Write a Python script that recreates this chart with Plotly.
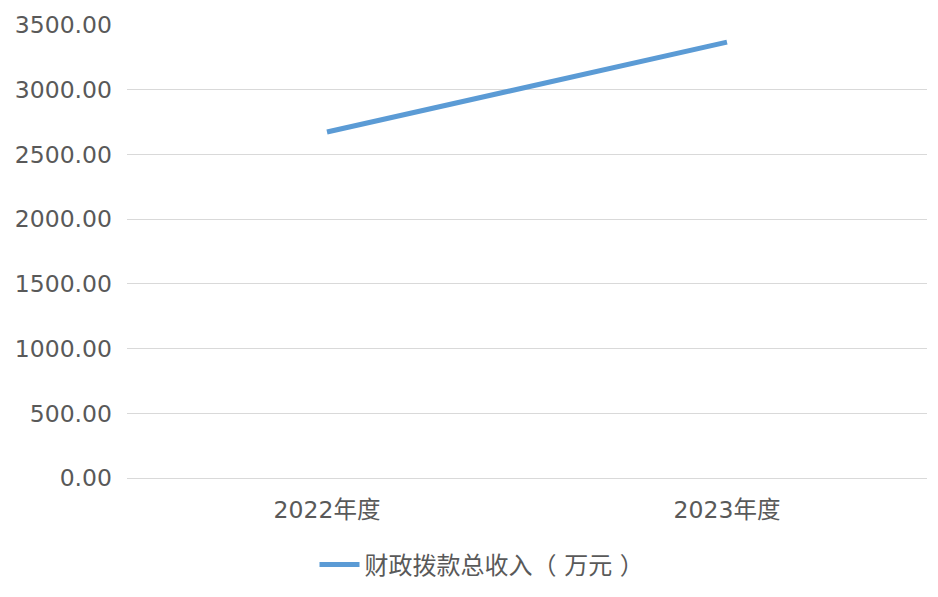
import plotly.graph_objects as go

categories = ["2022年度", "2023年度"]
values = [2673.0, 3368.0]
series_name = "财政拨款总收入（ 万元 ）"
y_ticks = [0, 500, 1000, 1500, 2000, 2500, 3000, 3500]

W, H = 930, 589  # page body has an 8px default margin

fig = go.Figure()
fig.add_trace(go.Scatter(
    x=categories, y=values, mode="lines", name=series_name,
    line=dict(color="#5b9bd5", width=5),
))

font_family = "DejaVu Sans, Noto Sans CJK SC, sans-serif"
fig.update_layout(
    width=W, height=H,
    margin=dict(l=119, r=11, t=17, b=119, autoexpand=False),
    paper_bgcolor="white", plot_bgcolor="white",
    showlegend=True,
    legend=dict(orientation="h", x=0.5 + 9 / W, xanchor="center", xref="container",
                y=32 / H, yanchor="middle", yref="container", itemwidth=40,
                font=dict(family=font_family, size=24, color="#595959")),
    font=dict(family=font_family, size=23.5, color="#595959"),
)
fig.update_xaxes(showgrid=False, showline=False, zeroline=False, automargin=False,
                 tickfont=dict(size=23.5, color="#595959"), ticks="",
                 range=[-0.5, 1.5], ticklabelstandoff=15)
fig.update_yaxes(range=[0, 3500], tickvals=y_ticks, tickformat=".2f", automargin=False,
                 showgrid=True, gridcolor="#d9d9d9", gridwidth=1.3,
                 zeroline=True, zerolinecolor="#d9d9d9", zerolinewidth=1.3,
                 showline=False, ticks="",
                 tickfont=dict(size=23.5, color="#595959"), ticklabelstandoff=14)

fig.write_html("out.html")
